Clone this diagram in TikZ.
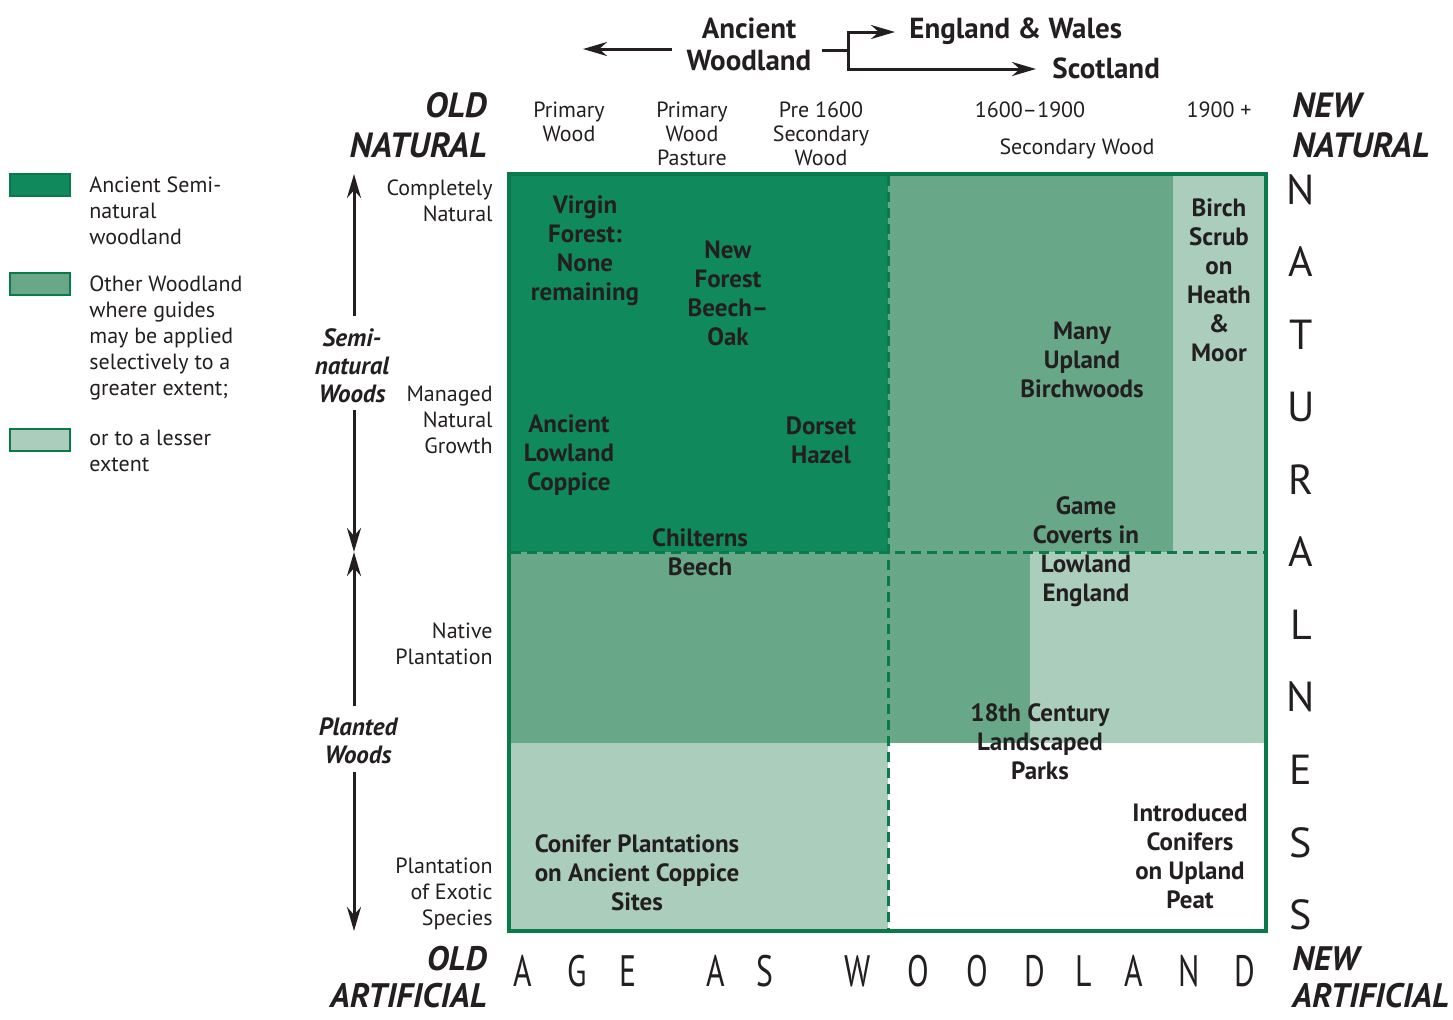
\documentclass[tikz,border=0pt]{standalone}
\usepackage{fontspec}
\setmainfont{PT Sans}
\newfontfamily\condfont[FakeStretch=0.72]{PT Sans}
\usetikzlibrary{arrows.meta}
\definecolor{dk}{HTML}{108A5D}
\definecolor{md}{HTML}{68A889}
\definecolor{lt}{HTML}{ABCDBC}
\definecolor{bd}{HTML}{0B7A4A}
\definecolor{tx}{HTML}{231F20}
\begin{document}
\begin{tikzpicture}[x=0.5pt,y=-0.5pt,
  every node/.style={text=tx, inner sep=0pt},
  lab/.style={font=\fontsize{11}{12}\selectfont, align=center},
  rowlab/.style={font=\fontsize{11}{13}\selectfont, align=right, anchor=east},
  leg/.style={font=\fontsize{11}{13}\selectfont, align=left, anchor=west},
  cell/.style={font=\bfseries\fontsize{12.5}{14.5}\selectfont, align=center},
  corner/.style={font=\bfseries\itshape\fontsize{17.5}{20}\selectfont},
  cornerb/.style={font=\bfseries\itshape\fontsize{17}{18.5}\selectfont},
  big/.style={font=\fontsize{21}{21}\selectfont},
  bot/.style={font=\condfont\fontsize{22}{22}\selectfont},
  axis/.style={font=\bfseries\itshape\fontsize{12.5}{14}\selectfont, align=center},
  top/.style={font=\bfseries\fontsize{14.5}{16}\selectfont},
  arr/.style={line width=1.5pt, draw=tx, -{Stealth[length=12pt,width=7pt]}},
  plain/.style={line width=1.5pt, draw=tx},
  dsh/.style={draw=bd, line width=1.5pt, dash pattern=on 5pt off 3pt},
  legbox/.style={draw=bd, line width=1pt}]
\useasboundingbox (0,0) rectangle (1453,1019);

% ---- regions
\fill[dk] (509,174) rectangle (888,552);
\fill[md] (888,174) rectangle (1173,552);
\fill[lt] (1173,174) rectangle (1266,552);
\fill[md] (509,552) rectangle (1030,743);
\fill[lt] (1030,552) rectangle (1266,743);
\fill[lt] (509,743) rectangle (888,931);
\draw[dsh] (888,176) -- (888,929);
\draw[dsh] (511,552) -- (1264,552);
\draw[draw=bd, line width=1.6pt] (509,174) rectangle (1266,931);

% ---- legend
\draw[legbox, fill=dk] (10,174) rectangle (70,196);
\draw[legbox, fill=md] (10,273) rectangle (70,295);
\draw[legbox, fill=lt] (10,429) rectangle (70,451);
\node[leg] (l1) at (89,211) {Ancient Semi-\\natural\\woodland};
\node[leg] (l2) at (89,338) {Other Woodland\\where guides\\may be applied\\selectively to a\\greater extent;};
\node[leg] (l3) at (89,451) {or to a lesser\\extent};

% ---- top
\node[top, align=center] (anc) at (749,44) {Ancient\\Woodland};
\node[top, anchor=west] (eng) at (909,31) {England \& Wales};
\node[top, anchor=west] (sco) at (1052,68) {Scotland};
\coordinate (ls) at (672,49);
\coordinate (le) at (583,49);
\draw[arr] (ls) -- (le);
\coordinate (st) at (822,50);
\coordinate (fk) at (848,50);
\draw[plain] (st) -- (fk);
\draw[arr] (fk) |- ([xshift=-7pt]eng.west |- 0,32);
\draw[arr] (fk) |- ([xshift=-8pt]sco.west |- 0,69);

% ---- column headers
\node[lab] (c1) at (569,122) {Primary\\Wood};
\node[lab] (c2) at (692,134) {Primary\\Wood\\Pasture};
\node[lab] (c3) at (821,134) {Pre 1600\\Secondary\\Wood};
\node[lab] (c4) at (1030,110) {1600--1900};
\node[lab] (c5) at (1219,110) {1900 +};
\node[lab] (c6) at (1077,149) {Secondary Wood};

% ---- corners
\node[corner, align=right, anchor=east] (on) at (487,125) {OLD\\NATURAL};
\node[corner, align=left, anchor=west] (nn) at (1292,125) {NEW\\NATURAL};
\node[cornerb, align=right, anchor=east] (oa) at (487,977) {OLD\\ARTIFICIAL};
\node[cornerb, align=left, anchor=west] (na) at (1292,977) {NEW\\ARTIFICIAL};

% ---- row labels
\node[rowlab] (r1) at (493,201) {Completely\\Natural};
\node[rowlab] (r2) at (493,420) {Managed\\Natural\\Growth};
\node[rowlab] (r3) at (493,644) {Native\\Plantation};
\node[rowlab] (r4) at (493,894) {Plantation\\of Exotic\\Species};

% ---- axis arrows
\node[axis] (semi) at (352,366) {Semi-\\natural\\Woods};
\node[axis] (plant) at (358,741) {Planted\\Woods};
\coordinate (a1) at (354,316);
\coordinate (a2) at (354,174);
\coordinate (a3) at (354,410);
\coordinate (a4) at (354,552);
\coordinate (a5) at (354,706);
\coordinate (a6) at (354,772);
\coordinate (a7) at (354,931);
\draw[arr] (a1) -- (a2);
\draw[arr] (a3) -- (a4);
\draw[arr] (a5) -- (a4);
\draw[arr] (a6) -- (a7);

% ---- cell texts
\node[cell] (t1) at (585,251) {Virgin\\Forest:\\None\\remaining};
\node[cell] (t2) at (728,293) {New\\Forest\\Beech--\\Oak};
\node[cell] (t3) at (569,455) {Ancient\\Lowland\\Coppice};
\node[cell] (t4) at (821,440) {Dorset\\Hazel};
\node[cell] (t5) at (700,552) {Chilterns\\Beech};
\node[cell] (t6) at (1082,360) {Many\\Upland\\Birchwoods};
\node[cell] (t7) at (1219,280) {Birch\\Scrub\\on\\Heath\\\&\\Moor};
\node[cell] (t8) at (1086,552) {Game\\Coverts in\\Lowland\\England};
\node[cell] (t9) at (1040,742) {18th Century\\Landscaped\\Parks};
\node[cell] (t10) at (1190,856) {Introduced\\Conifers\\on Upland\\Peat};
\node[cell] (t11) at (637,873) {Conifer Plantations\\on Ancient Coppice\\Sites};

% ---- NATURALNESS
\foreach \L/\Y [count=\i] in {N/190,A/262,T/335,U/407,R/480,A/552,L/625,N/697,E/770,S/843,S/915}
  \node[big] (nat\i) at (1301,\Y) {\L};

% ---- AGE AS WOODLAND
\foreach \L/\X [count=\i] in {A/523,G/577,E/628,A/716,S/765,W/858,O/918,O/977,D/1035,L/1084,A/1134,N/1189,D/1245}
  \node[bot] (age\i) at (\X,971) {\L};
\end{tikzpicture}
\end{document}
